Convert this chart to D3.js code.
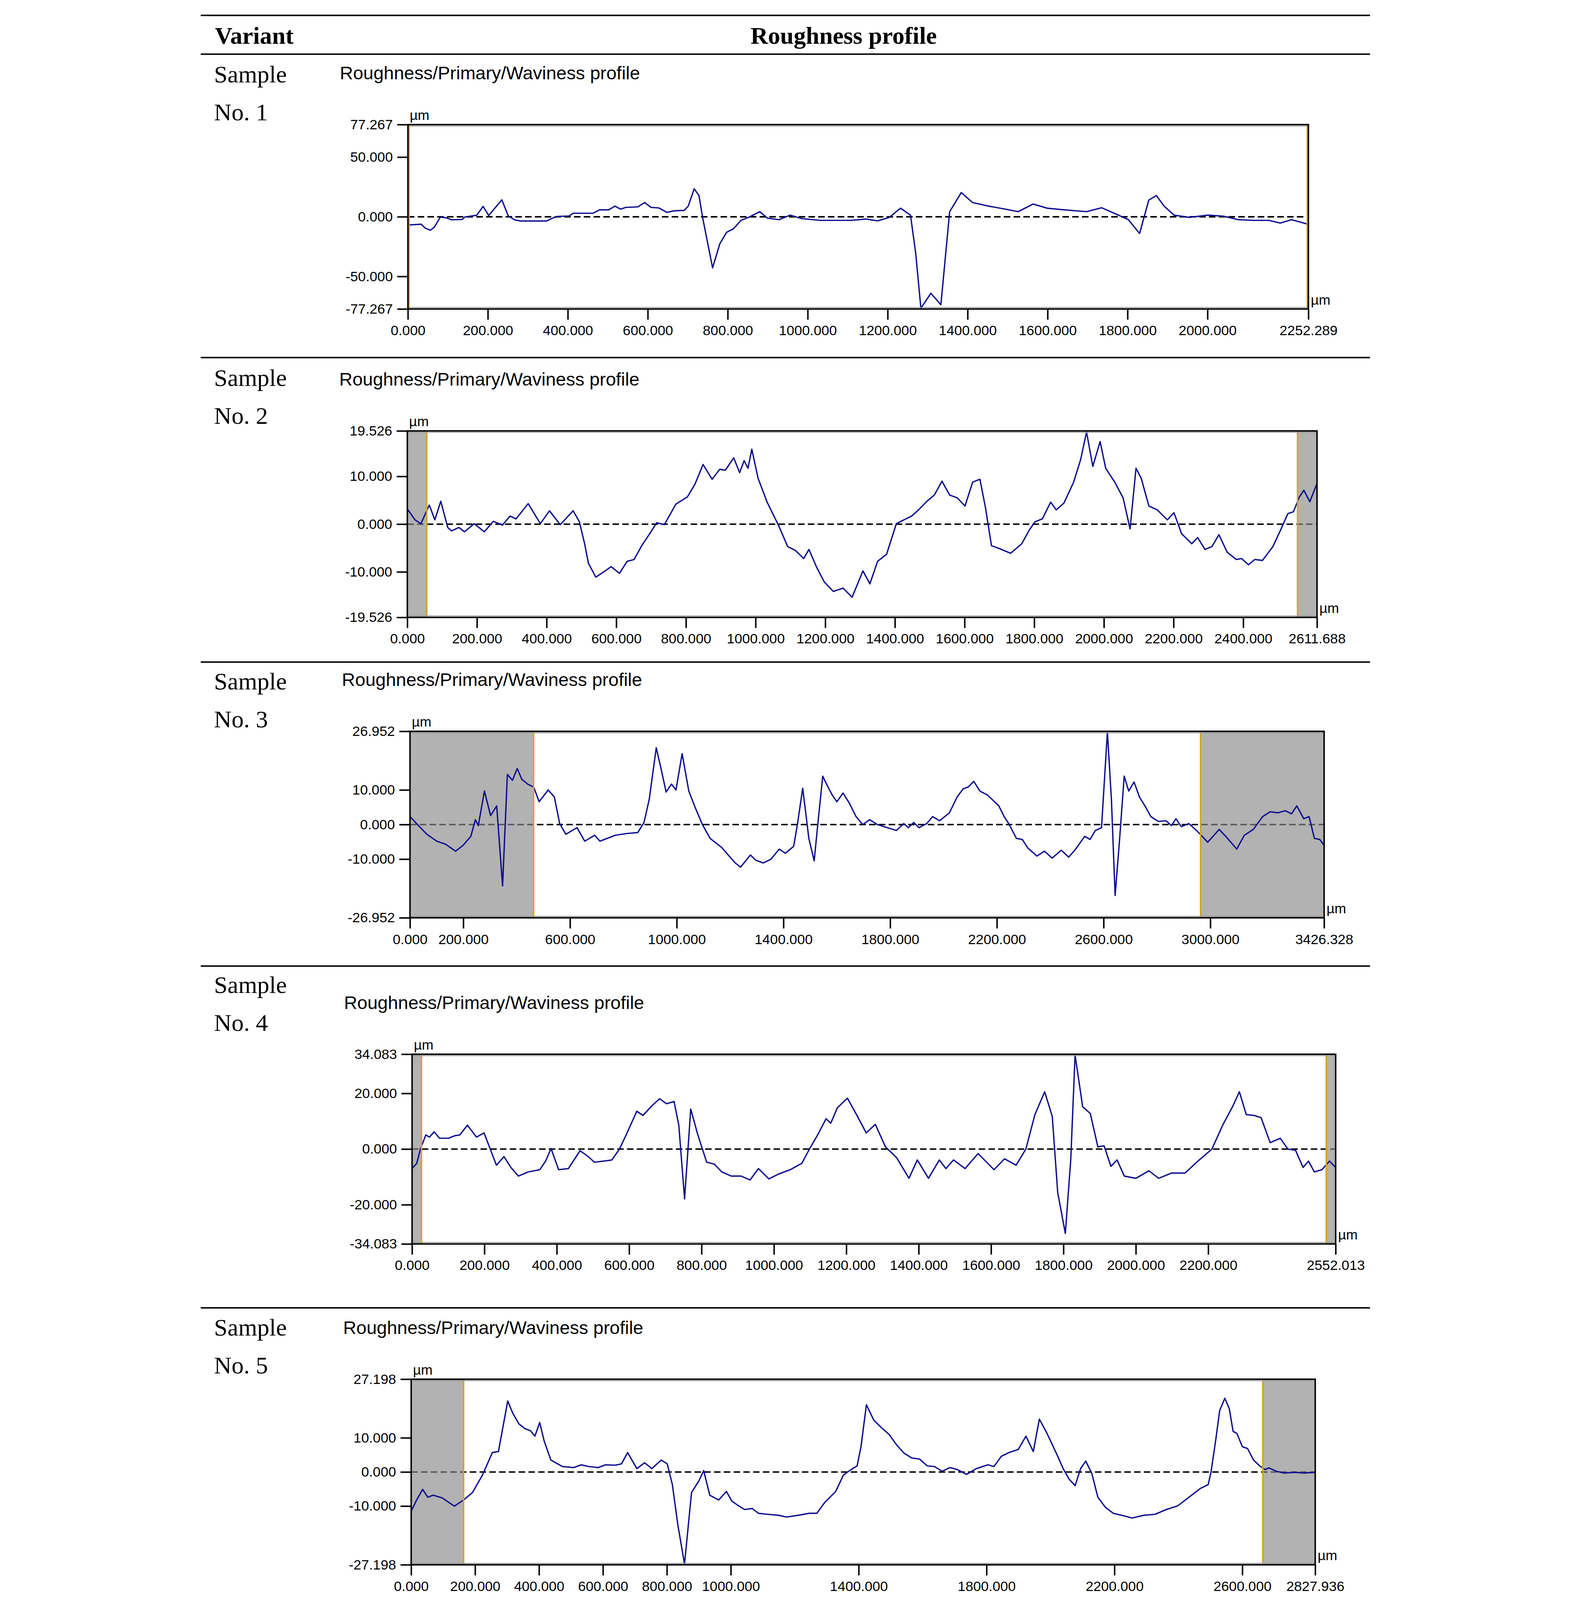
<!doctype html>
<html>
<head>
  <meta charset="utf-8">
  <title>Roughness profiles</title>
  <script src="https://cdn.jsdelivr.net/npm/d3@7"></script>
  <style>
  html, body { margin: 0; padding: 0; background: #fff; overflow: hidden; }
  svg { display: block; }
  .axis text { font-family: "Liberation Sans", Arial, sans-serif; font-size: 47px; fill: #000; }
  .axis line { stroke: #000; stroke-width: 5px; }
  .axis .domain { display: none; }
  .serif { font-family: "Liberation Serif", "Times New Roman", serif; font-size: 82px; fill: #000; }
  .sans { font-family: "Liberation Sans", Arial, sans-serif; fill: #000; }
  .profile { fill: none; stroke: #0c0c8e; stroke-width: 4.5px; stroke-linejoin: round; }
  .zero { stroke: #000; stroke-width: 5px; stroke-dasharray: 22,11; }
  </style>
</head>
<body>
  <script>
  // sample 1
  var s1X = [0, 33, 43, 56, 66, 81, 96, 109, 136, 142, 172, 188, 202, 235, 251, 268, 281, 347, 360, 373, 403, 413, 463, 479, 502, 518, 532, 545, 575, 592, 608, 628, 648, 665, 691, 701, 716, 728, 737, 762, 780, 797, 814, 833, 852, 880, 899, 928, 956, 985, 1032, 1108, 1146, 1175, 1204, 1232, 1257, 1270, 1283, 1308, 1333, 1355, 1384, 1412, 1450, 1498, 1526, 1564, 1599, 1640, 1697, 1735, 1773, 1802, 1830, 1853, 1872, 1891, 1916, 1954, 2001, 2040, 2077, 2115, 2153, 2182, 2210, 2252];
  var s1Y = [-6.9, -6.2, -9.4, -11.3, -8.7, -0.2, -0.9, -2.5, -2.2, -0.2, 1.3, 8.7, 1.1, 14.2, 0.7, -2.7, -3.5, -3.5, -1.4, 0.3, 0.7, 3.0, 3.0, 5.8, 5.8, 8.9, 6.4, 7.9, 8.3, 12.0, 7.9, 7.4, 3.7, 5.0, 5.4, 8.9, 23.5, 17.8, -0.5, -42.8, -22.7, -13.0, -10.1, -3.0, -0.5, 4.3, -1.1, -2.4, 1.4, -1.5, -3.0, -3.0, -1.9, -3.4, -0.5, 7.2, 1.4, -30.4, -76.6, -64.1, -73.7, 4.3, 20.3, 12.0, 9.1, 6.2, 4.3, 10.7, 7.2, 5.9, 4.3, 7.6, 2.0, -2.4, -14.0, 14.0, 17.8, 9.1, 1.4, -0.5, 1.4, 0.5, -2.4, -3.0, -3.0, -5.3, -2.4, -6.3];
  var s1XTicks = [0, 200, 400, 600, 800, 1000, 1200, 1400, 1600, 1800, 2000, 2252.289];
  var s1YTicks = [-77.267, -50, 0, 50, 77.267];
  var s1Eval = [0, 2252.289];

  // sample 2
  var s2X = [0, 22, 39, 63, 79, 96, 116, 127, 148, 164, 192, 221, 247, 273, 295, 312, 347, 382, 408, 439, 476, 494, 509, 520, 541, 568, 585, 609, 631, 651, 673, 694, 716, 738, 771, 804, 826, 849, 875, 897, 913, 937, 954, 967, 978, 989, 1007, 1033, 1066, 1092, 1114, 1138, 1153, 1175, 1197, 1223, 1251, 1277, 1308, 1328, 1350, 1376, 1404, 1426, 1448, 1465, 1492, 1513, 1535, 1557, 1579, 1601, 1623, 1644, 1660, 1677, 1699, 1732, 1764, 1786, 1802, 1823, 1847, 1863, 1885, 1913, 1933, 1950, 1968, 1989, 2005, 2031, 2055, 2075, 2092, 2107, 2129, 2153, 2182, 2201, 2223, 2252, 2269, 2290, 2310, 2330, 2354, 2380, 2395, 2415, 2433, 2455, 2485, 2506, 2528, 2544, 2561, 2574, 2591, 2611];
  var s2Y = [3.2, 0.9, 0.1, 4.0, 0.9, 4.8, -0.7, -1.4, -0.7, -1.6, 0.1, -1.6, 0.6, -0.2, 1.7, 1.1, 4.3, 0.1, 2.8, -0.1, 2.8, 0.5, -4.1, -8.2, -11.1, -9.8, -8.9, -10.3, -7.8, -7.4, -4.5, -2.2, 0.3, -0.1, 4.2, 5.7, 8.4, 12.5, 9.4, 11.5, 11.3, 13.9, 10.8, 13.3, 11.7, 15.7, 9.6, 4.6, -0.3, -4.7, -5.5, -7.2, -5.3, -9.0, -12.1, -14.1, -13.4, -15.3, -9.8, -12.5, -7.8, -6.3, 0.1, 0.9, 1.7, 2.8, 4.8, 6.1, 9.0, 6.1, 5.5, 3.8, 8.8, 9.4, 3.4, -4.5, -5.1, -6.1, -4.1, -1.2, 0.5, 1.1, 4.6, 3.0, 4.4, 8.8, 13.5, 19.3, 12.1, 17.3, 11.7, 8.8, 5.5, -1.0, 11.7, 9.6, 3.8, 3.0, 0.9, 2.4, -2.0, -4.1, -2.8, -5.3, -4.7, -2.2, -5.9, -7.4, -7.2, -8.5, -7.4, -7.6, -4.7, -1.4, 2.2, 2.6, 5.7, 7.1, 4.7, 8.4];
  var s2XTicks = [0, 200, 400, 600, 800, 1000, 1200, 1400, 1600, 1800, 2000, 2200, 2400, 2611.688];
  var s2YTicks = [-19.526, -10, 0, 10, 19.526];
  var s2Eval = [55.8, 2555.8];

  // sample 3
  var s3X = [0, 28, 63, 100, 134, 171, 199, 228, 245, 256, 279, 302, 325, 347, 365, 384, 402, 419, 441, 464, 484, 518, 541, 561, 584, 626, 655, 692, 712, 769, 812, 854, 877, 897, 923, 940, 960, 980, 997, 1020, 1045, 1068, 1096, 1125, 1168, 1196, 1219, 1239, 1276, 1296, 1324, 1353, 1384, 1407, 1438, 1452, 1472, 1495, 1515, 1527, 1547, 1567, 1583, 1600, 1623, 1646, 1672, 1697, 1723, 1752, 1789, 1823, 1851, 1868, 1888, 1908, 1937, 1959, 1985, 2022, 2051, 2073, 2093, 2113, 2136, 2165, 2207, 2227, 2244, 2273, 2295, 2316, 2350, 2378, 2407, 2441, 2469, 2492, 2529, 2549, 2569, 2592, 2614, 2629, 2643, 2660, 2677, 2694, 2714, 2734, 2757, 2777, 2805, 2834, 2854, 2871, 2891, 2919, 2948, 2990, 3033, 3061, 3099, 3127, 3161, 3196, 3224, 3253, 3281, 3304, 3324, 3350, 3370, 3390, 3410, 3426];
  var s3Y = [2.3, 0, -2.8, -4.8, -5.7, -7.7, -6.0, -3.4, 1.4, -0.3, 9.7, 2.6, 5.4, -17.7, 14.5, 12.8, 16.2, 13.1, 11.7, 10.8, 6.6, 10.0, 8.0, 0.3, -2.8, -0.9, -4.8, -3.1, -4.8, -3.1, -2.6, -2.3, 0.6, 7.4, 22.2, 16.5, 9.4, 11.7, 10.0, 20.5, 9.7, 5.1, 0, -4.0, -6.6, -9.1, -11.1, -12.3, -8.8, -10.3, -11.1, -10.0, -7.1, -8.3, -6.3, 0, 10.5, -4.0, -10.5, -1.1, 14.0, 10.8, 8.5, 6.6, 9.1, 6.3, 2.3, 0, 1.4, 0, -0.9, -1.7, 0.3, -0.9, 0.6, -0.9, 0.3, 2.3, 1.1, 3.4, 8.0, 10.3, 10.9, 12.5, 9.7, 8.5, 5.4, 2.3, 0.3, -4.0, -4.3, -6.8, -9.1, -7.7, -9.7, -7.4, -9.4, -7.4, -3.4, -4.3, -1.7, -0.9, 26.8, 7.4, -20.5, -4.0, 14.0, 9.7, 12.3, 8.0, 5.1, 2.3, 0.9, 1.1, -0.3, 1.7, -0.6, 0.3, -1.7, -5.1, -1.4, -3.7, -7.1, -3.1, -1.4, 2.3, 3.7, 3.4, 4.0, 3.1, 5.4, 1.7, 2.3, -4.0, -4.3, -6.0];
  var s3XTicks = [0, 200, 600, 1000, 1400, 1800, 2200, 2600, 3000, 3426.328];
  var s3YTicks = [-26.952, -10, 0, 10, 26.952];
  var s3Eval = [463.2, 2963.2];

  // sample 4
  var s4X = [0, 13, 23, 38, 48, 61, 76, 101, 118, 132, 153, 178, 199, 216, 233, 254, 273, 294, 321, 353, 369, 384, 405, 432, 464, 483, 504, 531, 552, 573, 594, 621, 638, 663, 684, 703, 724, 737, 753, 770, 789, 814, 835, 856, 882, 909, 934, 957, 986, 1014, 1045, 1077, 1098, 1119, 1144, 1157, 1175, 1203, 1228, 1255, 1280, 1308, 1339, 1373, 1396, 1427, 1457, 1475, 1496, 1528, 1564, 1608, 1637, 1669, 1696, 1721, 1748, 1769, 1784, 1805, 1820, 1832, 1853, 1874, 1895, 1912, 1931, 1948, 1968, 2000, 2036, 2063, 2099, 2136, 2168, 2210, 2241, 2267, 2286, 2305, 2326, 2346, 2371, 2399, 2420, 2441, 2462, 2477, 2493, 2514, 2535, 2552];
  var s4Y = [-7.0, -5.1, 0, 5.1, 4.3, 6.2, 3.9, 3.9, 4.8, 5.1, 8.6, 4.3, 5.8, 0, -5.8, -2.7, -6.6, -9.7, -8.2, -7.4, -4.3, 0.2, -7.4, -7.0, -0.6, -2.3, -4.7, -4.3, -3.9, 0, 5.8, 13.6, 12.1, 15.6, 18.1, 16.3, 17.1, 8.6, -17.9, 14.4, 5.4, -4.7, -5.4, -8.2, -9.7, -9.7, -11.1, -7.0, -10.7, -8.9, -7.4, -5.1, 0, 4.7, 10.9, 9.3, 14.8, 18.3, 12.4, 5.8, 8.9, 0.8, -3.1, -10.5, -3.9, -10.5, -3.9, -7.0, -3.9, -7.0, -1.6, -7.4, -3.5, -5.8, 0, 12.4, 20.6, 11.7, -15.6, -30.3, -3.9, 33.8, 15.2, 12.8, 0.8, 1.2, -6.2, -3.9, -9.7, -10.5, -7.8, -10.5, -8.6, -8.6, -4.7, 0, 8.9, 15.2, 20.6, 12.4, 12.1, 11.3, 2.3, 3.9, 0, -0.4, -6.6, -4.3, -8.2, -7.4, -4.3, -6.6];
  var s4XTicks = [0, 200, 400, 600, 800, 1000, 1200, 1400, 1600, 1800, 2000, 2200, 2552.013];
  var s4YTicks = [-34.083, -20, 0, 20, 34.083];
  var s4Eval = [26, 2526];

  // sample 5
  var s5X = [0, 17, 36, 52, 69, 97, 135, 164, 192, 223, 254, 273, 302, 318, 337, 356, 373, 387, 402, 416, 437, 473, 509, 532, 556, 585, 608, 639, 658, 677, 706, 730, 753, 782, 801, 817, 834, 855, 877, 900, 915, 934, 962, 986, 1003, 1024, 1043, 1067, 1086, 1115, 1150, 1174, 1210, 1245, 1269, 1293, 1328, 1352, 1376, 1395, 1407, 1424, 1447, 1471, 1495, 1518, 1542, 1566, 1590, 1614, 1637, 1661, 1685, 1709, 1737, 1768, 1804, 1823, 1846, 1870, 1899, 1923, 1946, 1965, 1989, 2018, 2041, 2058, 2077, 2094, 2110, 2129, 2148, 2172, 2196, 2231, 2255, 2291, 2327, 2362, 2398, 2433, 2469, 2493, 2502, 2517, 2529, 2545, 2559, 2571, 2583, 2600, 2616, 2635, 2654, 2671, 2683, 2707, 2730, 2766, 2790, 2828];
  var s5Y = [-11.5, -8.2, -5.1, -7.4, -6.8, -7.6, -10.0, -8.2, -6.0, -0.9, 5.7, 6.0, 20.8, 17.2, 14.1, 12.7, 12.1, 10.5, 14.5, 9.1, 3.5, 1.6, 1.3, 2.1, 1.6, 1.3, 2.1, 2.0, 2.4, 5.7, 1.0, 2.7, 1.0, 3.5, 2.4, -3.7, -15.4, -27.0, -6.0, -2.6, 0.4, -6.8, -8.2, -5.7, -8.5, -9.9, -11.0, -10.7, -12.1, -12.4, -12.7, -13.2, -12.7, -12.1, -12.1, -9.0, -5.7, -0.9, 0.7, 1.8, 7.4, 19.7, 15.2, 13.0, 11.0, 8.0, 5.5, 4.1, 3.8, 1.8, 1.6, 0.2, 1.3, 0.7, -0.7, 1.0, 2.1, 1.6, 4.6, 5.7, 6.6, 10.5, 6.0, 15.5, 11.3, 5.5, 0.7, -2.1, -4.0, 1.0, 3.2, -0.4, -7.4, -10.4, -12.1, -12.9, -13.5, -12.7, -12.4, -11.0, -9.9, -7.4, -4.8, -3.7, 0, 9.6, 18.0, 21.6, 18.6, 11.9, 11.3, 7.4, 6.9, 3.5, 1.8, 0.7, 1.2, 0.2, -0.3, -0.1, -0.3, -0.1];
  var s5XTicks = [0, 200, 400, 600, 800, 1000, 1400, 1800, 2200, 2600, 2827.936];
  var s5YTicks = [-27.198, -10, 0, 10, 27.198];
  var s5Eval = [164, 2664];

  var sampleNames = ["No. 1", "No. 2", "No. 3", "No. 4", "No. 5"];
  var panelTitle = "Roughness/Primary/Waviness profile";

  var samples = [
    {x: s1X, y: s1Y, xt: s1XTicks, yt: s1YTicks, ev: s1Eval},
    {x: s2X, y: s2Y, xt: s2XTicks, yt: s2YTicks, ev: s2Eval},
    {x: s3X, y: s3Y, xt: s3XTicks, yt: s3YTicks, ev: s3Eval},
    {x: s4X, y: s4Y, xt: s4XTicks, yt: s4YTicks, ev: s4Eval},
    {x: s5X, y: s5Y, xt: s5XTicks, yt: s5YTicks, ev: s5Eval}
  ];

  // page layout (pixels, in the 4021 x 5406 drawing space)
  var W = 4021, H = 5406;
  var frames = [
    {l: 735, r: 3777, t: 421, b: 1044, lab: 279},
    {l: 733, r: 3806, t: 1456, b: 2086, lab: 1304},
    {l: 742, r: 3830, t: 2471, b: 3101, lab: 2330},
    {l: 749, r: 3869, t: 3562, b: 4203, lab: 3355},
    {l: 746, r: 3800, t: 4660, b: 5287, lab: 4512}
  ];
  var rules = [52, 183, 1208, 2237, 3264, 4419];

  // the viewport is shorter than the drawing, so fit the whole page into it
  var svg = d3.select("body").append("svg")
      .attr("viewBox", "0 0 " + W + " " + H)
      .attr("preserveAspectRatio", "xMidYMin meet")
      .style("width", "100vw")
      .style("height", "100vh");

  svg.selectAll("line.rule")
    .data(rules)
    .enter().append("line")
      .attr("class", "rule")
      .attr("x1", 35).attr("x2", 3985)
      .attr("y1", function(d) { return d; })
      .attr("y2", function(d) { return d; })
      .attr("stroke", "#000")
      .attr("stroke-width", 5);

  svg.append("text").attr("class", "serif")
    .attr("x", 83).attr("y", 148)
    .style("font-weight", "bold")
    .text("Variant");
  svg.append("text").attr("class", "serif")
    .attr("x", 2207).attr("y", 148)
    .attr("text-anchor", "middle")
    .style("font-weight", "bold")
    .text("Roughness profile");

  samples.forEach(function(s, i) {
    var f = frames[i];
    var len = s.xt[s.xt.length - 1],
      amp = s.yt[s.yt.length - 1];

    var x = d3.scaleLinear().domain([0, len]).range([f.l, f.r]);
    var y = d3.scaleLinear().domain([-amp, amp]).range([f.b, f.t]);

    svg.append("text").attr("class", "serif")
      .attr("x", 80).attr("y", f.lab)
      .text("Sample");
    svg.append("text").attr("class", "serif")
      .attr("x", 80).attr("y", f.lab + 128)
      .text(sampleNames[i]);

    svg.append("text").attr("class", "sans")
      .attr("x", f.l - 230).attr("y", f.t - 153)
      .style("font-size", "62px")
      .text(panelTitle);

    var g = svg.append("g");

    g.append("clipPath").attr("id", "clip" + i)
      .append("rect")
        .attr("x", f.l).attr("y", f.t)
        .attr("width", f.r - f.l).attr("height", f.b - f.t);

    // cut-off regions outside the evaluation length
    var bands = [[0, s.ev[0]], [s.ev[1], len]].filter(function(d) { return d[1] > d[0]; });
    g.selectAll("rect.band")
      .data(bands)
      .enter().append("rect")
        .attr("class", "band")
        .attr("x", function(d) { return x(d[0]); })
        .attr("width", function(d) { return x(d[1]) - x(d[0]); })
        .attr("y", f.t).attr("height", f.b - f.t)
        .attr("fill", "#b2b2b2");

    g.append("line").attr("class", "zero")
      .attr("x1", f.l).attr("x2", f.r)
      .attr("y1", y(0)).attr("y2", y(0));

    g.selectAll("rect.shade")
      .data(bands)
      .enter().append("rect")
        .attr("class", "shade")
        .attr("x", function(d) { return x(d[0]); })
        .attr("width", function(d) { return x(d[1]) - x(d[0]); })
        .attr("y", f.t).attr("height", f.b - f.t)
        .attr("fill", "#b2b2b2")
        .attr("opacity", 0.5);

    var line = d3.line()
        .x(function(d) { return x(d[0]); })
        .y(function(d) { return y(d[1]); });

    g.append("path")
      .datum(d3.zip(s.x, s.y))
      .attr("class", "profile")
      .attr("clip-path", "url(#clip" + i + ")")
      .attr("d", line);

    g.selectAll("line.cut")
      .data(s.ev)
      .enter().append("line")
        .attr("class", "cut")
        .attr("x1", function(d) { return x(d) + (d === 0 ? 4 : d === len ? -4 : 0); })
        .attr("x2", function(d) { return x(d) + (d === 0 ? 4 : d === len ? -4 : 0); })
        .attr("y1", f.t).attr("y2", f.b)
        .attr("stroke", "#d2a41e")
        .attr("stroke-width", 5);

    // frame
    g.append("line").attr("x1", f.l).attr("x2", f.r).attr("y1", f.t + 5).attr("y2", f.t + 5)
      .attr("stroke", "#9a9a9a").attr("stroke-width", 3);
    g.append("line").attr("x1", f.l).attr("x2", f.r).attr("y1", f.b - 5).attr("y2", f.b - 5)
      .attr("stroke", "#9a9a9a").attr("stroke-width", 3);
    g.append("rect")
      .attr("x", f.l).attr("y", f.t)
      .attr("width", f.r - f.l).attr("height", f.b - f.t)
      .attr("fill", "none")
      .attr("stroke", "#000")
      .attr("stroke-width", 5);

    var fmt = function(d) { return d.toFixed(3); };

    g.append("g")
      .attr("class", "axis")
      .attr("transform", "translate(0," + f.b + ")")
      .call(d3.axisBottom(x).tickValues(s.xt).tickFormat(fmt).tickSize(36).tickPadding(19));

    g.append("g")
      .attr("class", "axis")
      .attr("transform", "translate(" + f.l + ",0)")
      .call(d3.axisLeft(y).tickValues(s.yt).tickFormat(fmt).tickSize(36).tickPadding(15));

    g.append("text").attr("class", "sans")
      .attr("x", f.l + 6).attr("y", f.t - 16)
      .style("font-size", "47px")
      .text("µm");
    g.append("text").attr("class", "sans")
      .attr("x", f.r + 8).attr("y", f.b - 15)
      .style("font-size", "47px")
      .text("µm");
  });
  </script>
</body>
</html>
